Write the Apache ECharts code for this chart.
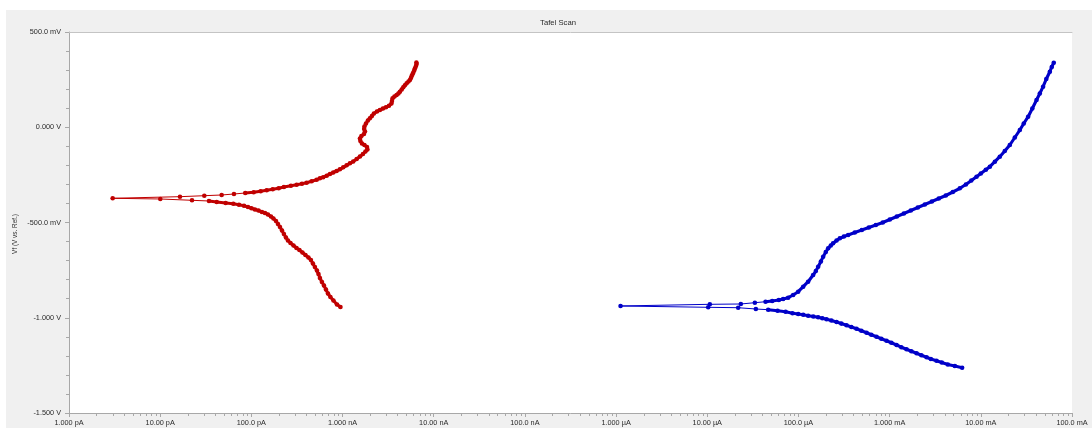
<!DOCTYPE html>
<html>
<head>
<meta charset="utf-8">
<title>Tafel Scan</title>
<script src="https://cdn.jsdelivr.net/npm/echarts@6/dist/echarts.min.js"></script>
<style>
  html, body { margin: 0; padding: 0; background: #ffffff; }
  #chart { width: 1092px; height: 432px; }
</style>
</head>
<body>
<div id="chart"></div>
<script>
// Tafel scan data: log10 of |I| (amperes) and Vf (volts vs. reference).
// Each curve is split into its cathodic and anodic branches.
const redCathodicLogI = [-9.023,-9.061,-9.100,-9.133,-9.160,-9.182,-9.204,-9.226,-9.248,-9.264,-9.281,-9.303,-9.325,-9.347,-9.374,-9.407,-9.440,-9.473,-9.505,-9.538,-9.571,-9.599,-9.621,-9.643,-9.664,-9.686,-9.708,-9.730,-9.758,-9.785,-9.818,-9.851,-9.884,-9.922,-9.961,-9.999,-10.037,-10.081,-10.136,-10.198,-10.282,-10.380,-10.465,-10.651,-10.999,-11.521];
const redCathodicV = [-0.9435,-0.9304,-0.9094,-0.8910,-0.8727,-0.8517,-0.8307,-0.8123,-0.7913,-0.7703,-0.7519,-0.7336,-0.7152,-0.6968,-0.6837,-0.6706,-0.6574,-0.6443,-0.6338,-0.6207,-0.6076,-0.5945,-0.5787,-0.5603,-0.5420,-0.5236,-0.5078,-0.4921,-0.4790,-0.4685,-0.4580,-0.4501,-0.4449,-0.4370,-0.4317,-0.4254,-0.4186,-0.4118,-0.4065,-0.4013,-0.3976,-0.3924,-0.3871,-0.3835,-0.3766,-0.3729];
const redAnodicLogI = [-10.783,-10.516,-10.326,-10.191,-10.067,-9.975,-9.898,-9.832,-9.766,-9.701,-9.643,-9.566,-9.503,-9.445,-9.394,-9.339,-9.284,-9.248,-9.212,-9.174,-9.138,-9.102,-9.065,-9.029,-8.992,-8.955,-8.919,-8.883,-8.845,-8.809,-8.776,-8.749,-8.727,-8.732,-8.760,-8.787,-8.804,-8.809,-8.793,-8.765,-8.754,-8.763,-8.760,-8.743,-8.722,-8.700,-8.678,-8.656,-8.623,-8.590,-8.557,-8.524,-8.491,-8.464,-8.458,-8.451,-8.431,-8.407,-8.387,-8.371,-8.351,-8.334,-8.316,-8.297,-8.277,-8.261,-8.250,-8.242,-8.234,-8.225,-8.214,-8.206,-8.195,-8.188,-8.190];
const redAnodicV = [-0.3645,-0.3593,-0.3556,-0.3504,-0.3451,-0.3415,-0.3362,-0.3310,-0.3257,-0.3205,-0.3136,-0.3068,-0.3016,-0.2963,-0.2911,-0.2837,-0.2753,-0.2680,-0.2627,-0.2543,-0.2454,-0.2375,-0.2296,-0.2207,-0.2102,-0.1997,-0.1892,-0.1798,-0.1667,-0.1535,-0.1404,-0.1273,-0.1168,-0.1037,-0.0932,-0.0853,-0.0722,-0.0591,-0.0459,-0.0354,-0.0223,-0.0092,0.0039,0.0197,0.0354,0.0470,0.0591,0.0722,0.0827,0.0905,0.0984,0.1047,0.1126,0.1247,0.1378,0.1520,0.1614,0.1693,0.1772,0.1866,0.1982,0.2097,0.2202,0.2307,0.2402,0.2480,0.2585,0.2690,0.2769,0.2863,0.2979,0.3094,0.3215,0.3320,0.3399];

const blueCathodicLogI = [-2.205,-2.285,-2.362,-2.428,-2.486,-2.548,-2.595,-2.652,-2.705,-2.762,-2.815,-2.872,-2.924,-2.981,-3.034,-3.091,-3.144,-3.201,-3.253,-3.310,-3.363,-3.420,-3.473,-3.530,-3.582,-3.639,-3.692,-3.738,-3.784,-3.837,-3.894,-3.948,-4.003,-4.065,-4.141,-4.229,-4.332,-4.467,-4.661,-4.990,-5.951];
const blueCathodicV = [-1.2622,-1.2533,-1.2454,-1.2349,-1.2254,-1.2165,-1.2076,-1.1971,-1.1866,-1.1761,-1.1656,-1.1546,-1.1430,-1.1315,-1.1205,-1.1100,-1.0995,-1.0890,-1.0785,-1.0680,-1.0575,-1.0485,-1.0396,-1.0307,-1.0223,-1.0144,-1.0081,-1.0028,-0.9976,-0.9934,-0.9892,-0.9845,-0.9803,-0.9766,-0.9682,-0.9630,-0.9577,-0.9541,-0.9473,-0.9452,-0.9383];
const blueAnodicLogI = [-4.972,-4.632,-4.478,-4.361,-4.288,-4.215,-4.168,-4.113,-4.058,-4.003,-3.948,-3.894,-3.839,-3.809,-3.784,-3.754,-3.729,-3.700,-3.674,-3.645,-3.620,-3.582,-3.546,-3.502,-3.455,-3.382,-3.305,-3.228,-3.151,-3.075,-2.998,-2.921,-2.844,-2.768,-2.691,-2.614,-2.537,-2.461,-2.384,-2.307,-2.230,-2.164,-2.104,-2.047,-2.000,-1.945,-1.901,-1.846,-1.792,-1.737,-1.682,-1.627,-1.572,-1.529,-1.481,-1.435,-1.389,-1.353,-1.317,-1.282,-1.243,-1.222,-1.200];
const blueAnodicV = [-0.9294,-0.9278,-0.9210,-0.9158,-0.9121,-0.9068,-0.9016,-0.8947,-0.8806,-0.8632,-0.8370,-0.8108,-0.7756,-0.7546,-0.7320,-0.7047,-0.6795,-0.6549,-0.6354,-0.6207,-0.6092,-0.5945,-0.5829,-0.5735,-0.5656,-0.5525,-0.5394,-0.5262,-0.5131,-0.5000,-0.4843,-0.4685,-0.4528,-0.4370,-0.4213,-0.4055,-0.3898,-0.3740,-0.3583,-0.3399,-0.3205,-0.3005,-0.2795,-0.2596,-0.2428,-0.2234,-0.2071,-0.1808,-0.1546,-0.1247,-0.0932,-0.0538,-0.0144,0.0197,0.0554,0.0984,0.1430,0.1772,0.2129,0.2533,0.2916,0.3163,0.3388];

// Axis tick labels
const xTickLabels = ['1.000 pA','10.00 pA','100.0 pA','1.000 nA','10.00 nA','100.0 nA','1.000 \u00b5A','10.00 \u00b5A','100.0 \u00b5A','1.000 mA','10.00 mA','100.0 mA'];
const yTickLabels = ['-1.500 V','-1.000 V','-500.0 mV','0.000 V','500.0 mV'];

const X_MIN_EXP = -12, X_MAX_EXP = -1;
const Y_MIN = -1.5, Y_MAX = 0.5, Y_STEP = 0.5;

const FONT = 'Liberation Sans, Arial, sans-serif';
const TEXT_COLOR = '#2a2a2a';
const AXIS_COLOR = '#a8a8a8';
const RED = '#c00000';
const BLUE = '#0000c8';
// Consecutive readings closer than this (in pixels) merge into a solid trace
const DENSE_GAP_PX = 10.5;

function toPairs(logI, v) {
  return logI.map((l, i) => [Math.pow(10, l), v[i]]);
}
const redData = toPairs(redCathodicLogI, redCathodicV).concat(toPairs(redAnodicLogI, redAnodicV));
const blueData = toPairs(blueCathodicLogI, blueCathodicV).concat(toPairs(blueAnodicLogI, blueAnodicV));

// Log-axis minor ticks at 2..9 within every decade
const minorTickValues = [];
for (let e = X_MIN_EXP; e < X_MAX_EXP; e++) {
  for (let k = 2; k <= 9; k++) minorTickValues.push([k * Math.pow(10, e), Y_MIN]);
}

function markerSeries(name, data, color) {
  return {
    name: name,
    type: 'line',
    data: data,
    z: 3,
    symbol: 'circle',
    symbolSize: 4.6,
    showSymbol: true,
    showAllSymbol: true,
    itemStyle: { color: color, borderWidth: 0 },
    lineStyle: { color: color, width: 1 },
    emphasis: { disabled: true }
  };
}
function traceSeries(name, color) {
  return {
    name: name,
    type: 'line',
    data: [],
    z: 2,
    showSymbol: false,
    connectNulls: false,
    lineStyle: { color: color, width: 3.1, cap: 'round', join: 'round' },
    emphasis: { disabled: true },
    silent: true
  };
}

const chart = echarts.init(document.getElementById('chart'), null, { renderer: 'canvas' });

const option = {
  animation: false,
  backgroundColor: '#ffffff',
  title: {
    text: 'Tafel Scan',
    left: 553,
    top: 14,
    textAlign: 'center',
    textStyle: { fontFamily: FONT, fontSize: 7.7, fontWeight: 'normal', color: TEXT_COLOR }
  },
  graphic: [
    { type: 'rect', z: -10, silent: true,
      shape: { x: 6, y: 10, width: 1086, height: 418 },
      style: { fill: '#f0f0f0' } },
    { type: 'text', silent: true,
      x: 15, y: 234, rotation: Math.PI / 2,
      style: { text: 'Vf (V vs. Ref.)', fontFamily: FONT, fontSize: 6.4,
               fill: TEXT_COLOR, align: 'center', verticalAlign: 'middle' } }
  ],
  grid: {
    left: 69, right: 20, top: 32, bottom: 19,
    show: true, backgroundColor: '#ffffff', borderWidth: 0
  },
  xAxis: [{
    type: 'log',
    logBase: 10,
    position: 'bottom',
    min: Math.pow(10, X_MIN_EXP),
    max: Math.pow(10, X_MAX_EXP),
    interval: 1,
    axisLine: { show: true, onZero: false, lineStyle: { color: AXIS_COLOR, width: 1 } },
    axisTick: { show: true, inside: false, length: 4, lineStyle: { color: AXIS_COLOR } },
    minorTick: { show: false },
    splitLine: { show: false },
    axisLabel: {
      show: true, margin: 6, showMinLabel: true, showMaxLabel: true,
      fontFamily: FONT, fontSize: 7.3, color: TEXT_COLOR,
      formatter: v => xTickLabels[Math.round(Math.log10(v)) - X_MIN_EXP] || ''
    }
  }, {
    type: 'log',
    position: 'top',
    min: Math.pow(10, X_MIN_EXP),
    max: Math.pow(10, X_MAX_EXP),
    axisLine: { show: true, onZero: false, lineStyle: { color: '#c4c4c4', width: 1 } },
    axisTick: { show: false },
    axisLabel: { show: false },
    splitLine: { show: false }
  }],
  yAxis: {
    type: 'value',
    min: Y_MIN, max: Y_MAX, interval: Y_STEP,
    axisLine: { show: true, onZero: false, lineStyle: { color: AXIS_COLOR, width: 1 } },
    axisTick: { show: true, inside: false, length: 4, lineStyle: { color: AXIS_COLOR } },
    minorTick: { show: true, splitNumber: 5, length: 3, lineStyle: { color: AXIS_COLOR } },
    splitLine: { show: false },
    axisLabel: {
      margin: 8, fontFamily: FONT, fontSize: 7.3, color: TEXT_COLOR,
      formatter: v => yTickLabels[Math.round((v - Y_MIN) / Y_STEP)] || ''
    }
  },
  series: [
    {
      name: 'minor ticks',
      type: 'custom',
      clip: false,
      silent: true,
      data: minorTickValues,
      encode: { x: 0, y: 1 },
      renderItem: (params, api) => {
        const p = api.coord([api.value(0), api.value(1)]);
        const x = Math.round(p[0]) + 0.5;
        return {
          type: 'line',
          shape: { x1: x, y1: p[1], x2: x, y2: p[1] + 3 },
          style: { stroke: AXIS_COLOR, lineWidth: 1 }
        };
      }
    },
    traceSeries('Sample A trace', RED),
    traceSeries('Sample B trace', BLUE),
    markerSeries('Sample A', redData, RED),
    markerSeries('Sample B', blueData, BLUE)
  ]
};

chart.setOption(option);

// Where readings crowd together they read as one solid stroke; break the
// solid trace wherever neighbouring readings are far apart on screen.
function solidTrace(data) {
  const pts = data.map(d => chart.convertToPixel({ xAxisIndex: 0, yAxisIndex: 0 }, d));
  const out = [data[0]];
  for (let i = 1; i < data.length; i++) {
    const dx = pts[i][0] - pts[i - 1][0];
    const dy = pts[i][1] - pts[i - 1][1];
    if (Math.sqrt(dx * dx + dy * dy) > DENSE_GAP_PX) out.push([NaN, NaN]);
    out.push(data[i]);
  }
  return out;
}
chart.setOption({
  series: [
    {},
    { data: solidTrace(redData) },
    { data: solidTrace(blueData) },
    {},
    {}
  ]
});
</script>
</body>
</html>
